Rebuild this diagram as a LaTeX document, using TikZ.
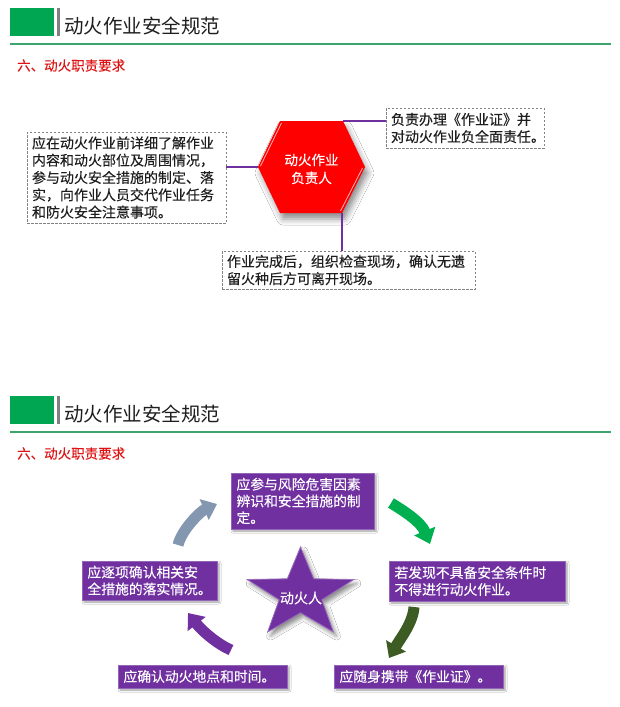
\documentclass[tikz,border=0pt]{standalone}
\usepackage{fontspec}
\setmainfont{Noto Sans CJK SC}[FakeBold=0.2]
\newfontfamily\titlefont{Noto Sans CJK SC}
\usetikzlibrary{arrows.meta,shadows.blur}
\definecolor{hdgreen}{RGB}{0,166,81}
\definecolor{lngreen}{RGB}{60,164,108}
\definecolor{ttred}{RGB}{222,20,20}
\definecolor{pp}{RGB}{112,48,160}
\definecolor{dashgray}{RGB}{130,130,130}
\definecolor{txt}{RGB}{30,30,30}
\definecolor{arblue}{RGB}{132,151,176}
\definecolor{argreen}{RGB}{0,176,80}
\definecolor{ardkgreen}{RGB}{60,92,36}
\newcommand{\fsz}[2]{\fontsize{#1pt}{#2pt}\selectfont}
\begin{document}
\begin{tikzpicture}[x=1pt,y=-1pt,
  dbox/.style={draw=dashgray, dash pattern=on 2.5pt off 1.5pt, line width=0.8pt, fill=white,
    inner xsep=5pt, inner ysep=0pt, outer sep=0pt, anchor=north west, align=left, text=txt, font=\fsz{14}{17.3}},
  pbox/.style={fill=pp, draw=pp!75!white, line width=0.6pt, text=white, inner xsep=5.5pt, inner ysep=0pt,
    outer sep=0pt, anchor=north west, align=left, font=\fsz{13.8}{16.8},
    blur shadow={shadow xshift=2pt, shadow yshift=-2pt, shadow blur radius=2pt, shadow opacity=40}},
  link/.style={draw=pp, line width=1.3pt},
  cur/.style={line width=11pt, -{Triangle[width=22pt,length=14pt]}},
  hdtitle/.style={anchor=west, font=\titlefont\fsz{19.5}{22}, text=txt, inner sep=0pt},
  hdsub/.style={anchor=west, font=\fsz{13.5}{16}, text=ttred, inner sep=0pt},
]
\useasboundingbox (0,0) rectangle (620,707);
\fill[white] (0,0) rectangle (620,707);

% ---------- header 1 ----------
\fill[hdgreen] (10,8) rectangle (54,36);
\fill[gray] (57,8) rectangle (60,36);
\node[hdtitle] (t1) at (64,26) {动火作业安全规范};
\draw[lngreen, line width=1.8pt] (10,44) -- (611,44);
\node[hdsub] (s1) at (17,65.5) {六、动火职责要求};

% ---------- top diagram ----------
\coordinate (hL) at (258,167);
\coordinate (hTL) at (280,121);
\coordinate (hTR) at (343,121);
\coordinate (hR) at (365,167);
\coordinate (hBR) at (342,213);
\coordinate (hBL) at (280,213);
\fill[red, blur shadow={shadow xshift=3pt, shadow yshift=-6pt, shadow blur radius=6pt, shadow opacity=45}]
  (hL) -- (hTL) -- (hTR) -- (hR) -- (hBR) -- (hBL) -- cycle;
\draw[white!70!red, line width=0.8pt] (260.5,166) -- (281.5,123);
\draw[white!70!red, line width=0.8pt] (362.5,168) -- (340.5,211);
\node[font=\fsz{13.5}{18}, text=white, align=center, inner sep=0pt] (hex) at (311.5,169) {动火作业\\负责人};

\node[dbox, text width=189pt, minimum height=91pt] (lbox) at (27,132)
  {应在动火作业前详细了解作业\\内容和动火部位及周围情况，\\参与动火安全措施的制定、落\\实，向作业人员交代作业任务\\和防火安全注意事项。};
\node[dbox, text width=148pt, minimum height=40pt] (rbox) at (386,108)
  {负责办理《作业证》并\\对动火作业负全面责任。};
\node[dbox, text width=243pt, minimum height=38pt] (bbox) at (222,251)
  {作业完成后，组织检查现场，确认无遗\\留火种后方可离开现场。};

\draw[link] (hL) -- (hL -| lbox.east);
\draw[link] (hTR) -- (hTR -| rbox.west);
\draw[link] (hBR) -- (hBR |- bbox.north);

% ---------- header 2 ----------
\fill[hdgreen] (10,396) rectangle (54,424);
\fill[gray] (57,396) rectangle (60,424);
\node[hdtitle] (t2) at (64,414) {动火作业安全规范};
\draw[lngreen, line width=1.8pt] (10,432) -- (611,432);
\node[hdsub] (s2) at (17,453.5) {六、动火职责要求};

% ---------- bottom diagram ----------
\node[pbox, text width=132pt, minimum height=56pt] (ptop) at (231,473)
  {应参与风险危害因素\\辨识和安全措施的制\\定。};
\node[pbox, text width=124pt, minimum height=39pt] (pleft) at (82,561)
  {应逐项确认相关安\\全措施的落实情况。};
\node[pbox, text width=165pt, minimum height=40pt] (pright) at (389,561)
  {若发现不具备安全条件时\\不得进行动火作业。};
\node[pbox, text width=158pt, minimum height=23pt] (pbl) at (118,665)
  {应确认动火地点和时间。};
\node[pbox, text width=158pt, minimum height=23pt] (pbr) at (334,665)
  {应随身携带《作业证》。};

% star
\fill[pp, draw=pp!70!white, line width=0.8pt,
  blur shadow={shadow xshift=3pt, shadow yshift=-4pt, shadow blur radius=4pt, shadow opacity=45}]
  (300.5,547) -- (313.7,578.8) -- (353.8,579.5) -- (321.8,599.8) -- (333.4,632)
  -- (300.5,612.8) -- (267.6,632) -- (279.2,599.8) -- (247.2,579.5) -- (287.3,578.8) -- cycle;
\node[font=\fsz{14}{16}, text=white, inner sep=0pt] (star) at (301,598) {动火人};

% curved arrows
\coordinate (a1s) at (178,545);  \coordinate (a1e) at (217,504);
\coordinate (a2s) at (391,503);  \coordinate (a2e) at (430,544);
\coordinate (a3s) at (414,607);  \coordinate (a3e) at (389,658);
\coordinate (a4s) at (231,650);  \coordinate (a4e) at (188,613);
\draw[cur, arblue] (a1s) .. controls (182,529) and (201,511) .. (a1e);
\draw[cur, argreen] (a2s) .. controls (404,511) and (421,522) .. (a2e);
\draw[cur, ardkgreen] (a3s) .. controls (413,623) and (400,639) .. (a3e);
\draw[cur, pp] (a4s) .. controls (219,645) and (203,632) .. (a4e);
\end{tikzpicture}
\end{document}
